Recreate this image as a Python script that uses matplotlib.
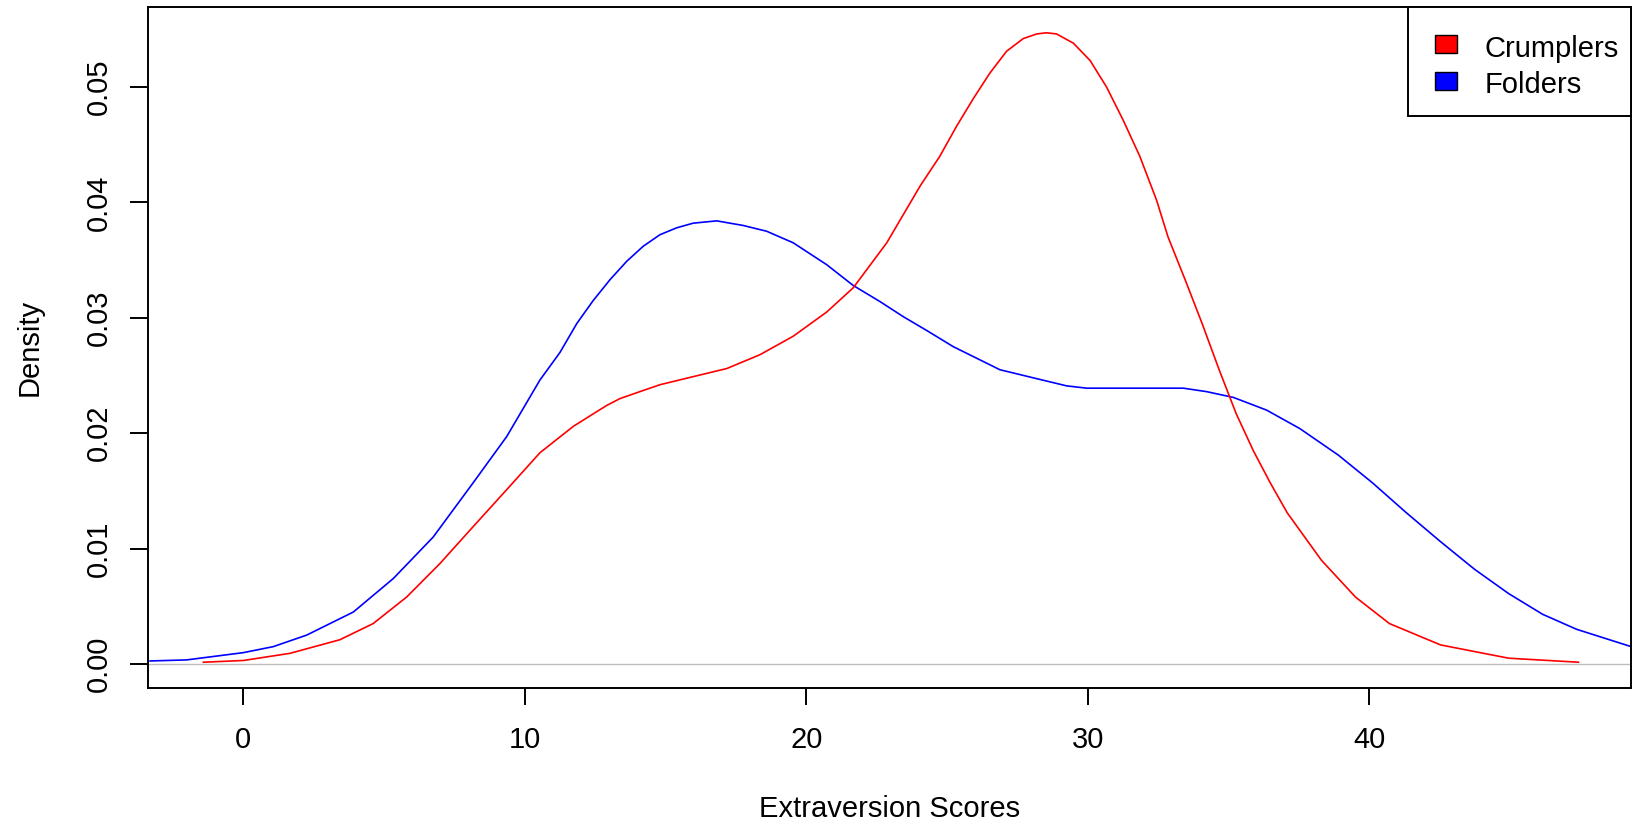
import matplotlib
matplotlib.use("Agg")
import matplotlib.pyplot as plt
from matplotlib.patches import Rectangle
from matplotlib.ticker import FormatStrFormatter

plt.rcParams['font.family'] = ['Liberation Sans', 'DejaVu Sans']

# Crumplers density curve
crumplers_x = [-1.419, 0.0, 1.657, 3.433, 4.614, 5.804, 6.985, 8.166, 9.356, 10.537,
               11.728, 12.908, 13.385, 14.089, 14.803, 15.984, 17.175, 18.355, 19.536,
               20.727, 21.669, 22.860, 24.040, 24.745, 25.340, 25.936, 26.521, 27.116,
               27.712, 28.188, 28.535, 28.892, 29.488, 30.083, 30.668, 31.264, 31.849,
               32.444, 32.853, 33.460, 34.064, 34.668, 35.272, 35.879, 36.483, 37.087,
               38.298, 39.510, 40.718, 42.533, 44.952, 47.432]
crumplers_y = [0.00015, 0.0003, 0.00092, 0.0021, 0.0035, 0.0058, 0.0087, 0.0119, 0.0151,
               0.0183, 0.0206, 0.0224, 0.0230, 0.0236, 0.0242, 0.0249, 0.0256, 0.0268,
               0.0284, 0.0305, 0.0326, 0.0365, 0.0414, 0.0440, 0.0466, 0.0490, 0.0512,
               0.0531, 0.0542, 0.0546, 0.0547, 0.0546, 0.0538, 0.0523, 0.0500, 0.0471,
               0.0440, 0.0402, 0.0370, 0.0333, 0.0295, 0.0255, 0.0217, 0.0185, 0.0157,
               0.0131, 0.0090, 0.0058, 0.0035, 0.00165, 0.0005, 0.00015]

# Folders density curve
folders_x = [-3.314, -2.014, 0.0, 1.062, 2.252, 3.909, 5.328, 6.747, 8.166, 9.356, 10.537,
             11.251, 11.847, 12.432, 13.027, 13.623, 14.208, 14.803, 15.399, 15.984,
             16.818, 17.760, 18.593, 19.536, 20.727, 21.669, 22.622, 23.445, 24.279,
             25.221, 26.878, 28.059, 29.249, 29.964, 33.397, 34.221, 35.173, 36.353,
             37.534, 38.902, 40.114, 41.321, 42.533, 43.744, 44.952, 46.163, 47.371,
             49.307]
folders_y = [0.00026, 0.00035, 0.00098, 0.0015, 0.0025, 0.0045, 0.0074, 0.0110, 0.0157,
             0.0197, 0.0246, 0.0270, 0.0295, 0.0315, 0.0333, 0.0349, 0.0362, 0.0372,
             0.0378, 0.0382, 0.0384, 0.0380, 0.0375, 0.0365, 0.0346, 0.0328, 0.0314,
             0.0301, 0.0289, 0.0275, 0.0255, 0.0248, 0.0241, 0.0239, 0.0239, 0.0236,
             0.0231, 0.0220, 0.0204, 0.0181, 0.0157, 0.0131, 0.0106, 0.0082, 0.0061,
             0.0043, 0.0030, 0.0015]

series_labels = ["Crumplers", "Folders"]
series_colors = ["red", "blue"]
x_ticks = [0, 10, 20, 30, 40]
y_ticks = [0.00, 0.01, 0.02, 0.03, 0.04, 0.05]

FS = 21
W, H = 1634, 832
AX_L, AX_R, AX_T, AX_B = 148.3, 1631.0, 6.7, 688.3


def fx(px):
    return px / W


def fy(py):
    return 1 - py / H


fig = plt.figure(figsize=(W / 100, H / 100), dpi=100)
ax = fig.add_axes([fx(AX_L), fy(AX_B), (AX_R - AX_L) / W, (AX_B - AX_T) / H])

ax.axhline(0, color="#BEBEBE", lw=1.0, zorder=1)
ax.plot(crumplers_x, crumplers_y, color=series_colors[0], lw=1.2, zorder=3)
ax.plot(folders_x, folders_y, color=series_colors[1], lw=1.2, zorder=2)

ax.set_xlim(-3.375, 49.30)
ax.set_ylim(-0.00211, 0.05696)
ax.set_xticks(x_ticks)
ax.set_yticks(y_ticks)
ax.yaxis.set_major_formatter(FormatStrFormatter('%.2f'))

for s in ax.spines.values():
    s.set_linewidth(1.4)
    s.set_color("black")

ax.tick_params(axis='x', length=12.5, width=1.4, pad=15, labelsize=FS, colors='black')
ax.tick_params(axis='y', length=13, width=1.4, pad=12.5, labelsize=FS, colors='black',
               labelrotation=90)
for lab in ax.get_yticklabels():
    lab.set_va('center')

ax.set_xlabel("Extraversion Scores", fontsize=FS, labelpad=29)
ax.set_ylabel("Density", fontsize=FS, labelpad=30)

# Legend drawn like R's legend(): framed box at top-right with filled squares
frame = Rectangle((fx(1408.3), fy(116)), fx(AX_R) - fx(1408.3), fy(AX_T) - fy(116),
                  transform=fig.transFigure, facecolor="white", edgecolor="black",
                  linewidth=1.4, zorder=10)
fig.patches.append(frame)
row_box_top = [35.0, 72.0]
row_baseline = [56.7, 93.3]
for lbl, col, top, base in zip(series_labels, series_colors, row_box_top, row_baseline):
    sq = Rectangle((fx(1435), fy(top + 18)), fx(1457) - fx(1435), fy(top) - fy(top + 18),
                   transform=fig.transFigure, facecolor=col, edgecolor="black",
                   linewidth=1.0, zorder=11)
    fig.patches.append(sq)
    fig.text(fx(1484.3), fy(base), lbl, fontsize=FS, ha="left", va="baseline",
             zorder=12)

fig.savefig("out.png", dpi=100)
